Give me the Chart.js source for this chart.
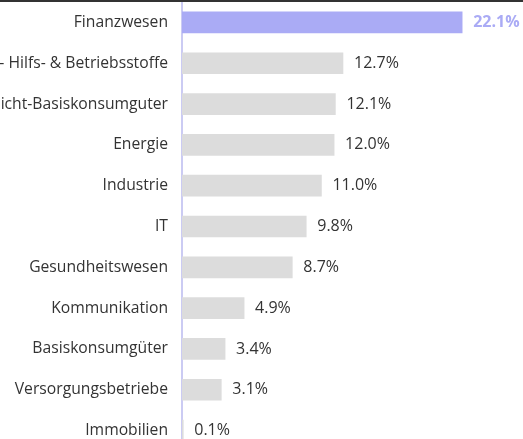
<!DOCTYPE html>
<html>
<head>
<meta charset="utf-8">
<script src="https://cdn.jsdelivr.net/npm/chart.js@4/dist/chart.umd.min.js"></script>
<style>
  html, body { margin: 0; padding: 0; background: #fff; overflow: hidden; }
  #wrap { position: relative; width: 523px; height: 439px; overflow: hidden; }
  #topline { position: absolute; left: 0; top: 0; width: 523px; height: 2px; background: #333; }
  canvas { position: absolute; left: 0; top: 0; }
</style>
</head>
<body>
<div id="wrap">
  <canvas id="chart" width="523" height="451"></canvas>
  <div id="topline"></div>
</div>
<script>
// ----------------------
// DATA
// ----------------------
const sectors = [
  'Finanzwesen',
  'Roh- Hilfs- & Betriebsstoffe',
  'Nicht-Basiskonsumguter',
  'Energie',
  'Industrie',
  'IT',
  'Gesundheitswesen',
  'Kommunikation',
  'Basiskonsumgüter',
  'Versorgungsbetriebe',
  'Immobilien'
];
const weights = [22.1, 12.7, 12.1, 12.0, 11.0, 9.8, 8.7, 4.9, 3.4, 3.1, 0.1];

const accent = '#aaabf5';
const grey = '#dcdcdc';
const textColor = '#333';

// value labels to the right of each bar
const valueLabels = {
  id: 'valueLabels',
  afterDatasetsDraw(chart) {
    const { ctx } = chart;
    const meta = chart.getDatasetMeta(0);
    ctx.save();
    ctx.textBaseline = 'middle';
    ctx.textAlign = 'left';
    meta.data.forEach((bar, i) => {
      const first = i === 0;
      ctx.font = (first ? 'bold ' : '') + '16px "Open Sans"';
      ctx.fillStyle = first ? accent : textColor;
      ctx.fillText(weights[i].toFixed(1) + '%', bar.x + 11, bar.y);
    });
    ctx.restore();
  }
};

new Chart(document.getElementById('chart'), {
  type: 'bar',
  data: {
    labels: sectors,
    datasets: [{
      data: weights,
      backgroundColor: weights.map((v, i) => i === 0 ? accent : grey),
      barThickness: 21,
      borderWidth: 0
    }]
  },
  options: {
    indexAxis: 'y',
    responsive: false,
    animation: false,
    layout: { padding: { top: 2, right: 0, bottom: 0, left: 0 } },
    plugins: { legend: { display: false }, tooltip: { enabled: false } },
    scales: {
      x: { display: false, min: 0, max: 26.9 },
      y: {
        afterFit(axis) {
          axis.width = 182;
          axis.paddingTop = 0;
          axis.paddingBottom = 0;
        },
        grid: { color: 'transparent', drawTicks: false },
        border: { display: true, color: '#cbcbf3', width: 2 },
        ticks: {
          color: textColor,
          padding: 14,
          font: { family: 'Open Sans', size: 15.7 }
        }
      }
    }
  },
  plugins: [valueLabels]
});
</script>
</body>
</html>
